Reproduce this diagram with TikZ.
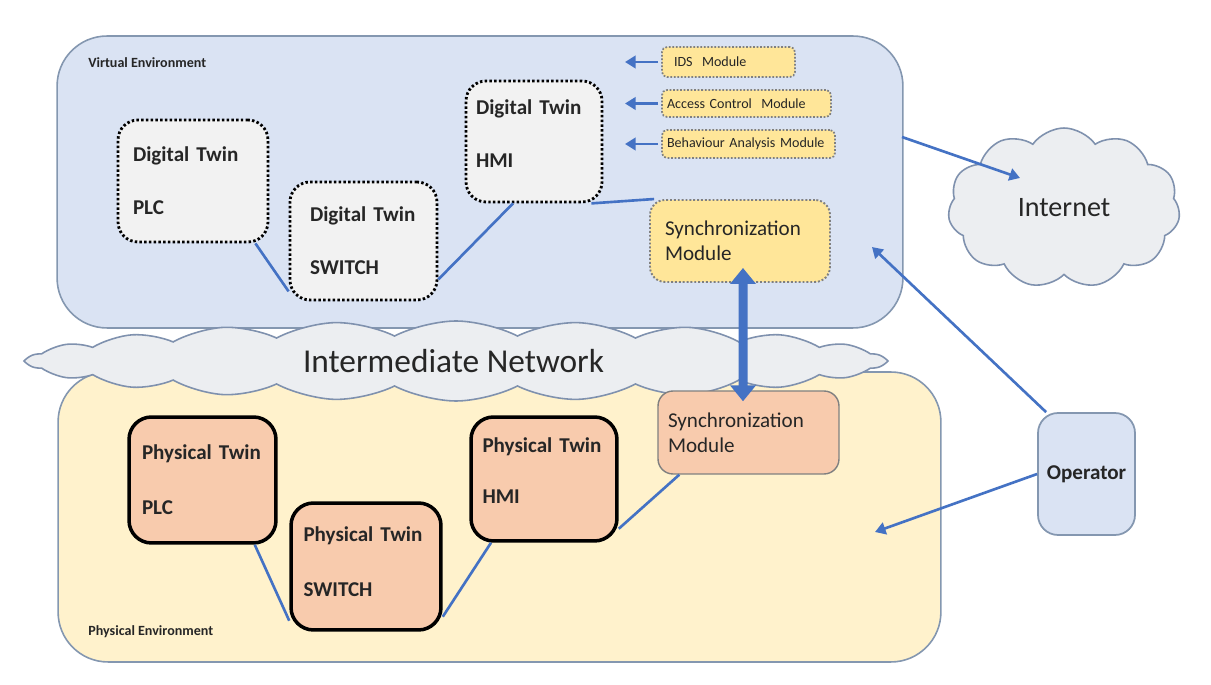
\documentclass[tikz,border=0pt]{standalone}
\usepackage{fontspec}
\setmainfont{Carlito}
\usetikzlibrary{shapes.symbols,arrows.meta,calc}
\definecolor{veFill}{HTML}{DAE3F3}
\definecolor{envLine}{HTML}{8497B0}
\definecolor{peFill}{HTML}{FFF2CC}
\definecolor{cloudFill}{HTML}{ECEEF1}
\definecolor{cloudLine}{HTML}{7F91AE}
\definecolor{twinGrey}{HTML}{F2F2F2}
\definecolor{modYellow}{HTML}{FFE699}
\definecolor{peach}{HTML}{F8CBAD}
\definecolor{arrBlue}{HTML}{4472C4}
\definecolor{txtDark}{HTML}{262626}
\tikzset{
  envbox/.style={draw=envLine, line width=0.9pt, rounded corners=1cm, inner sep=0pt},
  dtwin/.style={draw=black, fill=twinGrey, line width=1.6pt, dash pattern=on 1.4pt off 1.3pt,
    rounded corners=0.4cm, inner sep=1pt, align=left, text=txtDark,
    font=\fontsize{12pt}{14.4pt}\selectfont\bfseries},
  ptwin/.style={draw=black, fill=peach, line width=2pt, rounded corners=0.45cm, inner sep=1pt,
    align=left, text=txtDark, font=\fontsize{12pt}{14.4pt}\selectfont\bfseries},
  modbox/.style={draw=gray, fill=modYellow, line width=1pt, dash pattern=on 1pt off 1pt,
    rounded corners=0.1cm, inner sep=1pt, align=left, text=txtDark,
    font=\fontsize{8pt}{9.6pt}\selectfont},
  vsyncbox/.style={draw=gray, fill=modYellow, line width=1.1pt, dash pattern=on 1.1pt off 1.1pt,
    rounded corners=0.3cm, inner sep=1pt, align=left, text=txtDark,
    font=\fontsize{12pt}{14.4pt}\selectfont},
  psyncbox/.style={draw=gray, fill=peach, line width=0.8pt, rounded corners=0.3cm, inner sep=1pt,
    align=left, text=txtDark, font=\fontsize{12pt}{14.4pt}\selectfont},
  opbox/.style={draw=envLine, fill=veFill, line width=1pt, rounded corners=0.4cm, inner sep=1pt,
    text=txtDark, font=\fontsize{12pt}{14.4pt}\selectfont\bfseries},
  cloudnode/.style={cloud, cloud ignores aspect, draw=cloudLine, fill=cloudFill, line width=0.9pt,
    inner sep=0pt, text=txtDark},
  envlabel/.style={anchor=west, inner sep=0pt, text=txtDark, font=\fontsize{8pt}{9.6pt}\selectfont\bfseries},
  link/.style={draw=arrBlue, line width=1.5pt},
  arr/.style={draw=arrBlue, line width=1.5pt, -{Triangle[width=7pt,length=6pt]}},
  biarr/.style={draw=arrBlue, line width=0.18cm,
    {Triangle[width=0.5cm,length=0.32cm]}-{Triangle[width=0.5cm,length=0.32cm]}}
}
\begin{document}
\begin{tikzpicture}[x=0.02cm, y=-0.02cm]
\useasboundingbox (0,0) rectangle (1211,685);
\fill[white] (0,0) rectangle (1211,685);

% environments
\node[envbox, fill=veFill, minimum width=16.92cm, minimum height=5.84cm] (VE) at (480,182) {};
\node[envbox, fill=peFill, minimum width=17.66cm, minimum height=5.8cm] (PE) at (499.5,517) {};
\node[envlabel] (VElab) at (88,63) {Virtual Environment};
\node[envlabel] (PElab) at (88,632) {Physical Environment};

% intermediate network cloud
\node[cloudnode, cloud puffs=22, cloud puff arc=55, minimum width=17.14cm, minimum height=1.6cm,
  font=\fontsize{19pt}{22pt}\selectfont] (IN) at (456,361) {\raisebox{-1pt}{Intermediate Network}\hspace*{0.1cm}};

% internet cloud
\node[cloudnode, cloud puffs=11, cloud puff arc=110, minimum width=4.64cm, minimum height=3.2cm,
  font=\fontsize{16pt}{19pt}\selectfont] (NET) at (1064,208) {Internet};

% digital twins
\node[dtwin, minimum width=3.0cm, minimum height=2.44cm, text width=2.4cm] (dPLC) at (193,181)
  {Digital Twin\\[0.55cm]PLC};
\node[dtwin, minimum width=2.94cm, minimum height=2.36cm, text width=2.14cm] (dSW) at (363.5,241)
  {Digital Twin\\[0.55cm]SWITCH};
\node[dtwin, minimum width=2.72cm, minimum height=2.42cm, text width=2.32cm] (dHMI) at (534,141.5)
  {Digital Twin\\[0.55cm]HMI\\[-0.2cm]\mbox{}};

% modules
\node[modbox, minimum width=2.66cm, minimum height=0.6cm, text width=2.18cm] (IDS) at (728.5,62) {IDS\ \ Module};
\node[modbox, minimum width=3.38cm, minimum height=0.54cm, text width=3.18cm] (ACM) at (746.5,103.5) {Access Control\ \ Module};
\node[modbox, minimum width=3.46cm, minimum height=0.56cm, text width=3.26cm] (BAM) at (748.5,144) {Behaviour Analysis Module};
\coordinate (modTip) at (625,0);

% synchronization modules
\node[vsyncbox, minimum width=3.6cm, minimum height=1.64cm, text width=3.0cm] (vSync) at (740,241)
  {Synchronization\\Module};
\node[psyncbox, minimum width=3.62cm, minimum height=1.66cm, text width=3.22cm] (pSync) at (748.5,432.5)
  {Synchronization\\Module};

% physical twins
\node[ptwin, minimum width=2.94cm, minimum height=2.52cm, text width=2.42cm] (pPLC) at (202.5,480)
  {Physical Twin\\[0.6cm]PLC};
\node[ptwin, minimum width=3.0cm, minimum height=2.54cm, text width=2.5cm] (pSW) at (366,566.5)
  {Physical Twin\\[0.6cm]SWITCH\\[-0.3cm]\mbox{}};
\node[ptwin, minimum width=2.92cm, minimum height=2.48cm, text width=2.46cm] (pHMI) at (544,479)
  {Physical Twin\\[0.5cm]HMI\\[-0.17cm]\mbox{}};

% operator
\node[opbox, minimum width=1.94cm, minimum height=2.44cm] (OP) at (1086.5,474) {Operator};

% free ends of arrows
\coordinate (veOut) at (902,137);
\coordinate (netIn) at (1020,178);
\coordinate (veIn) at (872,247);
\coordinate (peIn) at (875,532);

% links, virtual side
\draw[link] ([xshift=-0.28cm]dPLC.south east) -- ([yshift=0.2cm]dSW.south west);
\draw[link] ([yshift=0.44cm]dSW.south east) -- ([xshift=-0.42cm]dHMI.south);
\draw[link] ([xshift=-0.24cm]dHMI.south east) -- ([xshift=0.1cm]vSync.north west);

% links, physical side
\draw[link] ([xshift=-0.46cm]pPLC.south east) -- ([yshift=0.22cm]pSW.south west);
\draw[link] ([yshift=0.3cm]pSW.south east) -- ([xshift=-1.06cm]pHMI.south);
\draw[link] ([yshift=0.28cm]pHMI.south east) -- ([xshift=0.44cm]pSync.south west);

% module arrows
\draw[arr] ([xshift=-0.06cm]IDS.west) -- (IDS.west -| modTip);
\draw[arr] ([xshift=-0.06cm]ACM.west) -- (ACM.west -| modTip);
\draw[arr] ([xshift=-0.06cm]BAM.west) -- (BAM.west -| modTip);

% synchronization double arrow
\draw[biarr] ([xshift=0.06cm,yshift=0.3cm]vSync.south) -- ([xshift=-0.11cm,yshift=-0.22cm]pSync.north);

% external arrows
\draw[arr] (veOut) -- (netIn);
\draw[arr] ([xshift=0.18cm]OP.north west) -- (veIn);
\draw[arr] (OP.west) -- (peIn);
\end{tikzpicture}
\end{document}
